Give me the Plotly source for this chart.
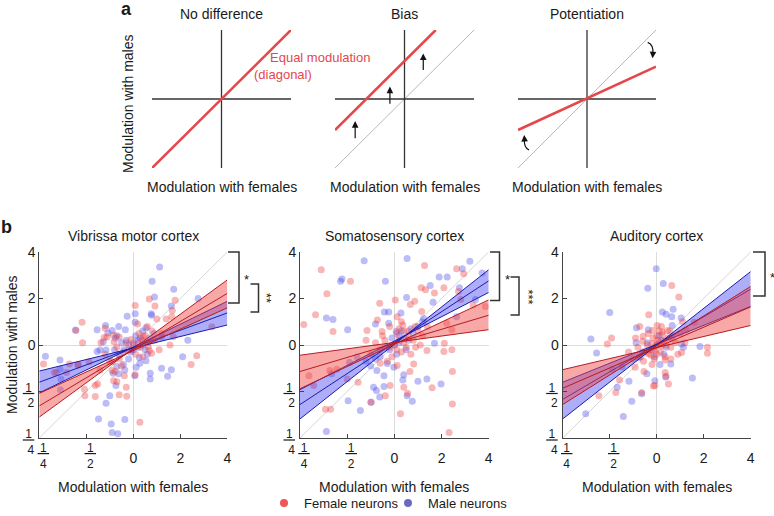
import plotly.graph_objects as go

W, H = 774, 516
FONT = "Liberation Sans, Arial, Helvetica, sans-serif"

# ---------------- data ----------------
panel_titles = ["Vibrissa motor cortex", "Somatosensory cortex", "Auditory cortex"]
schematic_titles = ["No difference", "Bias", "Potentiation"]
tick_vals = [-2, -1, 0, 1, 2]
int_tick_text = ["", "", "0", "2", "4"]
frac_tick_vals = [-2, -1]
frac_tick_text = ["<u>\u20091\u2009</u><br>4", "<u>\u20091\u2009</u><br>2"]

# Vibrissa motor cortex
vmc_female = [(0.34, 0.99), (0.04, 0.85), (0.46, 0.84), (0.89, 0.96), (0.83, 0.74), (-1.09, 0.49), (0.70, 0.56),
              (0.50, 0.56), (0.09, 0.45), (-0.56, 0.17), (-0.42, 0.21), (-0.30, 0.17), (-1.08, 0.05), (-0.69, 0.05),
              (1.67, 0.39), (-1.91, -0.41), (-1.64, -0.59), (-1.36, -0.41), (-1.17, -0.42), (-1.04, -0.95),
              (-1.03, -1.09), (-0.81, -1.11), (-0.81, -0.87), (-0.76, -0.84), (-0.42, -0.77), (-0.30, -1.07),
              (-0.15, -0.91), (-0.19, -0.66), (0.14, -1.66), (0.04, -0.64), (1.23, -0.42), (1.35, -0.23),
              (0.34, -0.12), (-1.22, 0.31), (-0.62, 0.16), (-0.60, 0.36), (-0.41, 0.07), (-0.39, -0.57),
              (-0.35, -0.79), (-0.14, -1.10), (-0.71, -0.54), (-0.45, -0.36), (0.21, 0.18), (0.32, -0.04),
              (0.39, -0.18), (0.78, 0.00), (0.85, 0.18), (0.82, 0.61), (-0.94, -0.36), (-1.18, -0.43),
              (-1.42, -0.59), (-1.68, -0.59), (0.00, 0.00), (0.10, 0.05), (-0.10, -0.10), (0.20, 0.10),
              (-0.20, -0.15), (0.15, -0.05), (-0.05, 0.12), (0.25, 0.20), (-0.30, -0.30), (0.05, -0.20),
              (0.30, 0.05), (-0.15, 0.05), (0.12, 0.25), (-0.35, -0.05), (0.40, 0.30), (-0.50, -0.35),
              (0.20, -0.25), (0.45, 0.10), (-0.25, -0.45), (0.60, 0.25), (0.55, -0.10), (-0.60, -0.20),
              (-0.45, -0.55), (0.30, 0.40)]
vmc_male = [(0.56, 1.68), (0.40, 1.37), (0.86, 1.20), (1.38, 1.00), (0.45, 1.03), (0.81, 0.84), (0.38, 0.67),
            (-0.13, 0.62), (0.04, 0.67), (0.04, 0.49), (-0.59, 0.42), (-0.45, 0.31), (-0.77, 0.33), (-1.23, 0.32),
            (-0.31, 0.40), (-0.17, 0.33), (-0.54, 0.26), (1.16, 0.10), (0.27, 0.37), (0.60, 0.17), (-0.38, 0.15),
            (-1.87, -0.24), (-1.56, -0.32), (-1.56, -0.52), (-1.54, -0.73), (-1.55, -0.96), (-0.77, -0.14),
            (-0.58, -0.11), (-0.21, -0.42), (-0.31, -0.62), (-0.37, -0.87), (-0.50, -1.09), (-0.58, -1.25),
            (-0.74, -1.59), (-0.47, -1.70), (-0.45, -1.88), (-0.33, -1.91), (-0.18, -1.60), (0.36, -0.61),
            (0.36, -0.73), (0.73, -0.67), (0.81, -0.53), (1.05, -0.25), (0.03, -0.66), (0.13, -0.27),
            (0.27, -0.34), (0.06, -0.48), (0.39, 0.64), (0.44, 0.25), (0.14, -0.39), (0.60, -0.50),
            (-0.43, -0.61), (-0.35, -0.46), (-0.18, -0.54), (-0.04, -0.11), (-0.71, -0.11), (-0.64, 0.07),
            (0.00, 0.05), (-0.10, 0.00), (0.10, -0.05), (-0.20, -0.10), (0.15, 0.15), (-0.05, -0.15),
            (0.20, 0.00), (-0.30, -0.20), (0.05, 0.20), (-0.15, 0.10), (0.25, -0.10), (-0.25, 0.05),
            (0.10, 0.10), (-0.40, -0.10), (0.35, 0.15), (-0.10, -0.30), (0.00, -0.10), (0.30, -0.20),
            (-0.35, 0.20), (0.20, 0.30)]

# Somatosensory cortex
ssc_female = [(-1.55, 1.62), (-0.93, 1.37), (-1.43, 1.10), (-1.92, 0.44), (-1.67, 0.65), (-1.30, 0.29),
              (0.64, 1.71), (1.32, 1.64), (1.47, 1.53), (0.57, 1.23), (0.66, 1.19), (0.85, 1.12), (0.02, 0.97),
              (-0.31, 0.90), (0.43, 0.94), (0.34, 0.87), (1.36, 1.15), (1.41, 0.98), (1.05, 1.23), (-0.36, 0.54),
              (-0.58, 0.31), (0.06, 0.61), (0.18, 0.43), (0.44, 0.40), (-0.26, 0.29), (-1.81, -0.66),
              (-1.71, -0.87), (-1.37, -0.55), (-1.22, -0.52), (-1.00, -0.73), (-0.77, -0.80), (-1.46, -1.38),
              (-1.35, -1.38), (-0.50, -1.23), (-0.19, -1.09), (-0.09, -0.87), (0.20, -0.91), (0.13, -1.48),
              (0.28, -1.04), (0.33, -0.57), (0.41, -0.41), (0.80, -0.92), (1.23, -0.57), (1.23, -1.27),
              (1.16, -1.88), (1.05, -0.14), (0.69, -0.12), (-0.30, -0.39), (0.06, -0.44), (1.93, 0.83),
              (1.67, 0.86), (1.11, 0.47), (1.22, 0.33), (1.06, 0.04), (1.22, -0.10), (0.58, 0.72),
              (0.00, 0.00), (0.10, 0.10), (-0.10, -0.05), (0.20, 0.05), (-0.20, 0.10), (0.15, -0.15),
              (0.30, 0.20), (-0.30, -0.10), (0.05, 0.25), (0.25, -0.05), (-0.05, -0.25), (0.40, 0.10),
              (-0.40, 0.05), (0.10, 0.35), (0.35, -0.20), (-0.15, -0.35), (0.50, 0.30), (-0.50, -0.20),
              (0.20, 0.30), (0.05, -0.10), (0.30, 0.30), (0.25, 0.15), (-0.25, 0.20), (0.45, -0.05),
              (0.60, 0.20), (-0.60, 0.10), (0.15, 0.50), (-0.10, 0.40), (0.70, 0.40), (0.55, 0.00)]
ssc_male = [(-0.64, 1.81), (0.27, 1.86), (-1.14, 1.37), (-1.11, 1.42), (-0.19, 1.37), (1.60, 1.80), (1.44, 1.64),
            (1.86, 1.55), (0.95, 1.46), (0.76, 1.28), (1.12, 1.46), (0.26, 1.02), (0.82, 0.92), (-1.44, 0.58),
            (-1.30, 0.55), (-0.99, 0.33), (-0.21, 0.71), (-0.12, 0.71), (0.14, 0.69), (-0.40, 0.45),
            (-0.12, 0.47), (0.04, 0.29), (1.72, 0.98), (1.38, 1.23), (0.62, 0.57), (-1.33, -0.62),
            (-0.98, -1.20), (-0.72, -1.41), (-1.44, -1.86), (-0.95, -0.37), (-0.37, -0.55), (-0.22, -0.66),
            (-0.44, -0.91), (-0.38, -0.98), (-0.31, -1.12), (-0.49, -1.23), (-0.01, -0.48), (0.27, -1.09),
            (0.18, -0.75), (0.69, -0.73), (0.99, -0.84), (-0.79, -0.26), (0.85, 0.04), (0.20, -0.64),
            (0.50, -0.78), (0.38, -1.21), (-0.22, -0.89), (1.32, 0.61),
            (0.00, 0.00), (0.10, 0.05), (-0.10, -0.10), (0.20, 0.15), (-0.20, -0.05), (0.05, -0.20),
            (0.30, 0.10), (-0.30, -0.25), (0.15, 0.30), (-0.05, 0.15), (0.40, 0.25), (-0.40, -0.30),
            (0.25, -0.10), (0.50, 0.40), (-0.50, -0.45), (0.10, 0.20), (0.35, 0.35), (-0.15, -0.40),
            (0.60, 0.50), (-0.60, -0.35)]

# Auditory cortex
ac_female = [(0.32, 1.28), (0.47, 1.03), (-0.17, 0.65), (-0.96, 0.15), (-1.05, 0.02), (-0.36, 0.40), (0.01, 0.42),
             (-0.09, 0.31), (0.12, 0.28), (0.23, 0.31), (-0.29, 0.19), (0.80, 0.49), (-1.23, -1.09),
             (-0.87, -1.02), (-0.79, -0.75), (-0.46, -0.48), (-0.32, -1.02), (-0.04, -0.87), (0.18, -0.59),
             (0.25, -0.84), (0.18, -0.32), (0.30, -0.30), (0.53, -0.16), (-0.17, -0.19), (1.08, -0.05),
             (1.08, -0.18), (0.62, 0.32), (0.55, 0.50), (0.20, -0.67), (-0.27, -0.57), (-0.07, -0.88),
             (0.00, 0.00), (0.05, 0.05), (-0.05, -0.05), (0.10, -0.02), (-0.10, 0.03), (0.02, 0.10),
             (-0.03, -0.12), (0.15, 0.08), (-0.15, -0.10), (0.08, -0.15), (-0.08, 0.15), (0.20, 0.00),
             (-0.20, 0.00), (0.00, 0.20), (0.00, -0.20), (0.25, 0.15), (-0.25, -0.15), (0.12, 0.22),
             (-0.12, -0.22), (0.30, -0.05), (-0.30, 0.08), (0.18, -0.25), (-0.18, 0.25), (0.35, 0.20),
             (-0.35, -0.25), (0.05, 0.30), (-0.05, -0.30), (0.40, 0.05), (-0.40, -0.05), (0.28, 0.30),
             (-0.28, -0.35), (0.45, -0.20), (-0.45, 0.15), (0.10, 0.40), (-0.10, -0.42), (0.50, 0.25),
             (-0.50, -0.30), (0.60, 0.05), (-0.60, -0.15)]
ac_male = [(-0.01, 1.64), (0.14, 1.32), (-0.19, 1.22), (0.35, 0.77), (0.12, 0.71), (0.20, 0.66), (-1.00, 0.70),
           (-1.40, 0.13), (0.52, 0.58), (-0.43, 0.37), (-0.18, 0.33), (0.33, 0.42), (-0.44, 0.05), (-1.28, -0.17),
           (-1.51, -1.48), (-0.71, -1.54), (-0.53, -1.21), (-0.32, -1.05), (-0.84, -0.91), (-0.59, -0.78),
           (-0.74, -0.47), (-0.94, -0.52), (0.76, -0.71), (0.19, -0.69), (-0.04, -0.77), (-0.21, -0.62),
           (-0.38, -0.27), (0.07, -0.42), (0.30, -0.41), (0.57, -0.05), (0.32, 0.61), (0.53, 0.02),
           (0.92, -0.03), (0.00, 0.00), (0.10, 0.10), (-0.10, -0.10), (0.20, -0.05), (-0.20, 0.05),
           (0.05, 0.20), (-0.05, -0.25), (0.30, 0.15), (-0.30, -0.15), (0.15, -0.20)]

# regression fits: values at x = -2 and x = +2 (lower CI, fit, upper CI)
fit_x = [-2, 2]
vmc_female_fit = {"lo": [-1.55, 0.80], "mid": [-1.31, 1.11], "hi": [-1.04, 1.40]}
vmc_male_fit = {"lo": [-1.03, 0.43], "mid": [-0.80, 0.69], "hi": [-0.56, 0.94]}
ssc_female_fit = {"lo": [-0.94, 0.33], "mid": [-0.57, 0.64], "hi": [-0.22, 0.97]}
ssc_male_fit = {"lo": [-1.59, 1.13], "mid": [-1.28, 1.38], "hi": [-0.96, 1.62]}
ac_female_fit = {"lo": [-1.28, 0.42], "mid": [-0.93, 0.82], "hi": [-0.53, 1.26]}
ac_male_fit = {"lo": [-1.59, 0.83], "mid": [-1.17, 1.20], "hi": [-0.80, 1.58]}

# schematic (panel a) lines
schem_span = [-1, 1]
nodiff_x, nodiff_y = [-1, 1], [-1, 1]
bias_x, bias_y = [-1, 0.45], [-0.45, 1.0]
pot_x, pot_y = [-1, 1], [-0.45, 0.47]

# ---------------- styling ----------------
RED_PT = "rgba(240,62,62,0.38)"
BLUE_PT = "rgba(62,62,230,0.35)"
RED_FILL = "rgba(242,70,70,0.47)"
BLUE_FILL = "rgba(60,60,240,0.42)"
RED_EDGE = "#b41c22"
BLUE_EDGE = "#1d1dab"
SCHEM_RED = "#e5474b"
AX = "#444444"
TXT = "#1a1a1a"


def px_x(p):
    return p / W


def px_y(p):
    return 1 - p / H


fig = go.Figure()

b_xdom = [(39.3, 227.3), (300.0, 488.7), (562.7, 750.7)]
b_ydom = (252.0, 438.0)
a_xdom = [(152.0, 291.0), (335.0, 474.0), (518.0, 656.0)]
a_ydom = (30.0, 168.0)

panels = [
    (vmc_female, vmc_male, vmc_female_fit, vmc_male_fit),
    (ssc_female, ssc_male, ssc_female_fit, ssc_male_fit),
    (ac_female, ac_male, ac_female_fit, ac_male_fit),
]

layout_axes = {}
for i, (fem, mal, ffit, mfit) in enumerate(panels):
    n = i + 1
    xa = "x" if n == 1 else f"x{n}"
    ya = "y" if n == 1 else f"y{n}"
    fig.add_trace(go.Scatter(x=[-2, 2], y=[-2, 2], mode="lines", line=dict(color="#d6d6d6", width=1),
                             xaxis=xa, yaxis=ya, showlegend=False, hoverinfo="skip"))
    fig.add_trace(go.Scatter(x=[p[0] for p in mal], y=[p[1] for p in mal], mode="markers",
                             marker=dict(size=7, color=BLUE_PT, line=dict(width=0)),
                             xaxis=xa, yaxis=ya, showlegend=False))
    fig.add_trace(go.Scatter(x=[p[0] for p in fem], y=[p[1] for p in fem], mode="markers",
                             marker=dict(size=7, color=RED_PT, line=dict(width=0)),
                             xaxis=xa, yaxis=ya, showlegend=False))
    for fit, fill, edge in ((mfit, BLUE_FILL, BLUE_EDGE), (ffit, RED_FILL, RED_EDGE)):
        bx = [fit_x[0], fit_x[1], fit_x[1], fit_x[0], fit_x[0]]
        by = [fit["hi"][0], fit["lo"][1], fit["hi"][1], fit["lo"][0], fit["hi"][0]]
        fig.add_trace(go.Scatter(x=bx, y=by, mode="lines", fill="toself", fillcolor=fill,
                                 line=dict(width=0), xaxis=xa, yaxis=ya, showlegend=False, hoverinfo="skip"))
        for a, b in (("hi", "lo"), ("lo", "hi"), ("mid", "mid")):
            fig.add_trace(go.Scatter(x=fit_x, y=[fit[a][0], fit[b][1]], mode="lines",
                                     line=dict(color=edge, width=1), xaxis=xa, yaxis=ya,
                                     showlegend=False, hoverinfo="skip"))
    common = dict(range=[-2, 2], tickvals=tick_vals, ticktext=int_tick_text, ticks="inside", ticklen=4,
                  tickcolor=AX, showline=True, linecolor=AX, linewidth=1, showgrid=False,
                  zeroline=True, zerolinecolor="#dcdcdc", zerolinewidth=1,
                  tickfont=dict(size=14, color=TXT, family=FONT), fixedrange=True)
    xdom = [px_x(b_xdom[i][0]), px_x(b_xdom[i][1])]
    ydom = [px_y(b_ydom[1]), px_y(b_ydom[0])]
    layout_axes["xaxis" if n == 1 else f"xaxis{n}"] = dict(common, domain=xdom, anchor=ya, ticklabelstandoff=7)
    layout_axes["yaxis" if n == 1 else f"yaxis{n}"] = dict(common, domain=ydom, anchor=xa)
    # overlay axes carrying the fraction tick labels (smaller, stacked)
    m = 6 + n
    frac = dict(range=[-2, 2], tickvals=frac_tick_vals, ticktext=frac_tick_text, ticks="", showline=False,
                showgrid=False, zeroline=False, tickfont=dict(size=12, color=TXT, family=FONT), fixedrange=True)
    layout_axes[f"xaxis{m}"] = dict(frac, overlaying=xa, anchor=f"y{m}", side="bottom",
                                    ticklabelstandoff=1, ticklabelshift=4)
    layout_axes[f"yaxis{m}"] = dict(frac, overlaying=ya, anchor=f"x{m}", side="left",
                                    ticklabelstandoff=4, ticklabelshift=4)
    fig.add_trace(go.Scatter(x=[None], y=[None], xaxis=f"x{m}", yaxis=f"y{m}", showlegend=False,
                             hoverinfo="skip"))

# schematic subplots (panel a)
schem_lines = [(nodiff_x, nodiff_y, False), (bias_x, bias_y, True), (pot_x, pot_y, True)]
for j, (lx, ly, show_diag) in enumerate(schem_lines):
    n = 4 + j
    xa, ya = f"x{n}", f"y{n}"
    if show_diag:
        fig.add_trace(go.Scatter(x=schem_span, y=schem_span, mode="lines", line=dict(color="#b8b8b8", width=1),
                                 xaxis=xa, yaxis=ya, showlegend=False, hoverinfo="skip"))
    fig.add_trace(go.Scatter(x=schem_span, y=[0, 0], mode="lines", line=dict(color="#333333", width=1.3),
                             xaxis=xa, yaxis=ya, showlegend=False, hoverinfo="skip"))
    fig.add_trace(go.Scatter(x=[0, 0], y=schem_span, mode="lines", line=dict(color="#333333", width=1.3),
                             xaxis=xa, yaxis=ya, showlegend=False, hoverinfo="skip"))
    fig.add_trace(go.Scatter(x=lx, y=ly, mode="lines", line=dict(color=SCHEM_RED, width=2.6),
                             xaxis=xa, yaxis=ya, showlegend=False, hoverinfo="skip"))
    hidden = dict(range=[-1, 1], visible=False, fixedrange=True)
    layout_axes[f"xaxis{n}"] = dict(hidden, domain=[px_x(a_xdom[j][0]), px_x(a_xdom[j][1])], anchor=ya)
    layout_axes[f"yaxis{n}"] = dict(hidden, domain=[px_y(a_ydom[1]), px_y(a_ydom[0])], anchor=xa)

# legend entries (one legend each, placed independently)
fig.add_trace(go.Scatter(x=[None], y=[None], mode="markers", name="Female neurons", legend="legend",
                         marker=dict(size=8, color="#ef5656"), xaxis="x", yaxis="y"))
fig.add_trace(go.Scatter(x=[None], y=[None], mode="markers", name="Male neurons", legend="legend2",
                         marker=dict(size=8, color="#6a6ac4"), xaxis="x", yaxis="y"))

annotations = []


def txt(x, y, s, size=14, color=TXT, angle=0, bold=False, xanchor="center"):
    annotations.append(dict(x=px_x(x), y=px_y(y), xref="paper", yref="paper", text=("<b>%s</b>" % s) if bold else s,
                            showarrow=False, textangle=angle, xanchor=xanchor, yanchor="middle",
                            font=dict(size=size, color=color, family=FONT)))


txt(126, 9, "a", size=18, bold=True)
txt(7, 227, "b", size=18, bold=True)
for j, t in enumerate(schematic_titles):
    cx = (a_xdom[j][0] + a_xdom[j][1]) / 2
    txt(cx, 14, t)
    txt(cx, 187, "Modulation with females")
txt(128, 104, "Modulation with males", angle=-90)
txt(320, 58, "Equal modulation", size=13, color=SCHEM_RED)
txt(283, 74, "(diagonal)", size=13, color=SCHEM_RED)
for i, t in enumerate(panel_titles):
    cx = (b_xdom[i][0] + b_xdom[i][1]) / 2
    txt(cx, 236, t)
    txt(cx, 487, "Modulation with females")
txt(12, 345, "Modulation with males", angle=-90)

# bias arrows
for ax_x, y0, y1 in ((-0.71, -0.59, -0.32), (-0.21, -0.09, 0.18), (0.27, 0.40, 0.66)):
    annotations.append(dict(x=ax_x, y=y1, ax=ax_x, ay=y0, xref="x5", yref="y5", axref="x5", ayref="y5",
                            showarrow=True, arrowhead=2, arrowsize=1.1, arrowwidth=1.2, arrowcolor="#111", text=""))
# potentiation curved arrow heads
for hx, hy, tx, ty in ((0.95, 0.59, 0.955, 0.66), (-0.91, -0.52, -0.905, -0.60)):
    annotations.append(dict(x=hx, y=hy, ax=tx, ay=ty, xref="x6", yref="y6", axref="x6", ayref="y6",
                            showarrow=True, arrowhead=2, arrowsize=1.1, arrowwidth=1.2, arrowcolor="#111", text=""))

shapes = [
    dict(type="path", xref="x6", yref="y6", path="M 0.88,0.82 Q 0.97,0.79 0.955,0.64",
         line=dict(color="#111", width=1.2)),
    dict(type="path", xref="x6", yref="y6", path="M -0.84,-0.74 Q -0.92,-0.70 -0.905,-0.58",
         line=dict(color="#111", width=1.2)),
]

BR = "#333333"


def bracket(x0, x1, y0, y1):
    shapes.append(dict(type="path", xref="paper", yref="paper",
                       path=f"M {px_x(x0)},{px_y(y0)} L {px_x(x1)},{px_y(y0)} L {px_x(x1)},{px_y(y1)} L {px_x(x0)},{px_y(y1)}",
                       line=dict(color=BR, width=1.5)))


bracket(228, 239, 252, 303)
bracket(250.5, 258.5, 284, 312)
txt(246.5, 279, "*", size=13)
txt(267, 298, "**", size=13, angle=90)
bracket(490, 499.5, 252, 300.5)
bracket(510.5, 519, 277, 315)
txt(507.5, 279, "*", size=13)
txt(528.5, 297, "***", size=13, angle=90)
bracket(753, 765, 252, 296)
txt(772, 277, "*", size=13)

leg_common = dict(orientation="h", yanchor="middle", xanchor="left", bgcolor="rgba(0,0,0,0)",
                  font=dict(size=13, family=FONT, color=TXT), itemclick=False, itemdoubleclick=False,
                  borderwidth=0)

fig.update_layout(
    width=W, height=H, margin=dict(l=0, r=0, t=0, b=0, pad=0, autoexpand=False),
    paper_bgcolor="white", plot_bgcolor="white",
    font=dict(family=FONT, color=TXT, size=14),
    annotations=annotations, shapes=shapes,
    showlegend=True,
    legend=dict(leg_common, x=px_x(264), y=px_y(503)),
    legend2=dict(leg_common, x=px_x(388), y=px_y(503)),
    **layout_axes,
)

fig.write_html("out.html", post_script="document.body.style.margin='0';",
               config={"displayModeBar": False})
